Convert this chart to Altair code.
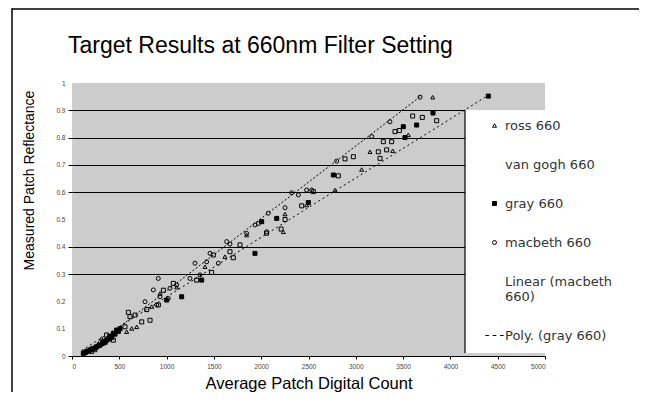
import altair as alt
import pandas as pd

SERIES = ["ross 660", "van gogh 660", "gray 660", "macbeth 660",
          "Linear (macbeth 660)", "Poly. (gray 660)"]

ross_x = [208, 243, 278, 313, 578, 631, 684, 842, 930, 1106, 1406, 1617, 1846,
          2234, 2252, 2480, 2780, 3062, 3150, 3390, 3555, 3813]
ross_y = [0.016, 0.022, 0.046, 0.064, 0.089, 0.101, 0.107, 0.181, 0.229, 0.252,
          0.327, 0.364, 0.443, 0.455, 0.520, 0.553, 0.608, 0.683, 0.748, 0.752,
          0.810, 0.948]

vangogh_x = [366, 437, 560, 596, 613, 666, 737, 790, 825, 913, 966, 1071, 1318,
             1476, 1494, 1670, 1705, 1776, 2057, 2210, 2252, 2428, 2551, 2815,
             2886, 2974, 3238, 3256, 3291, 3326, 3379, 3414, 3460, 3601, 3703, 3855]
vangogh_y = [0.077, 0.058, 0.107, 0.160, 0.144, 0.150, 0.125, 0.170, 0.131, 0.187,
             0.241, 0.266, 0.278, 0.306, 0.370, 0.382, 0.360, 0.407, 0.450, 0.465,
             0.500, 0.550, 0.602, 0.660, 0.722, 0.730, 0.748, 0.724, 0.785, 0.755,
             0.785, 0.822, 0.826, 0.879, 0.874, 0.862]

gray_x = [120, 140, 150, 170, 190, 205, 226, 250, 261, 285, 296, 320, 331, 350,
          366, 390, 402, 420, 437, 455, 472, 490, 508, 1001, 1159, 1371, 1934,
          2005, 2164, 2498, 2763, 3502, 3520, 3643, 3816, 4401]
gray_y = [0.010, 0.012, 0.016, 0.018, 0.022, 0.025, 0.028, 0.030, 0.034, 0.038,
          0.040, 0.045, 0.052, 0.050, 0.058, 0.062, 0.071, 0.068, 0.083, 0.080,
          0.095, 0.090, 0.100, 0.205, 0.217, 0.278, 0.376, 0.492, 0.504, 0.562,
          0.663, 0.840, 0.800, 0.846, 0.890, 0.952]

macbeth_x = [772, 860, 895, 912, 930, 1018, 1036, 1106, 1247, 1300, 1353, 1423,
             1459, 1547, 1635, 1670, 1846, 1935, 1970, 2058, 2075, 2252, 2322,
             2393, 2480, 2534, 2798, 3168, 3361, 3679]
macbeth_y = [0.199, 0.242, 0.187, 0.284, 0.217, 0.211, 0.248, 0.260, 0.284, 0.340,
             0.297, 0.345, 0.376, 0.340, 0.419, 0.410, 0.449, 0.480, 0.485, 0.455,
             0.523, 0.543, 0.598, 0.590, 0.608, 0.608, 0.714, 0.804, 0.858, 0.948]

linear_x = [100, 3700]
linear_y = [0.0, 0.955]
poly_x = [100, 2569, 4400]
poly_y = [0.02, 0.559, 0.955]

x_ticks = [0, 500, 1000, 1500, 2000, 2500, 3000, 3500, 4000, 4500, 5000]
y_ticks = [0, 0.1, 0.2, 0.3, 0.4, 0.5, 0.6, 0.7, 0.8, 0.9, 1]

FONT = "Liberation Sans"

pts = pd.concat([
    pd.DataFrame({"count": ross_x, "refl": ross_y, "series": SERIES[0]}),
    pd.DataFrame({"count": vangogh_x, "refl": vangogh_y, "series": SERIES[1]}),
    pd.DataFrame({"count": gray_x, "refl": gray_y, "series": SERIES[2]}),
    pd.DataFrame({"count": macbeth_x, "refl": macbeth_y, "series": SERIES[3]}),
], ignore_index=True)
lin_df = pd.DataFrame({"count": linear_x, "refl": linear_y})
poly_df = pd.DataFrame({"count": poly_x, "refl": poly_y})

xscale = alt.Scale(domain=[0, 5000], nice=False, zero=False)
yscale = alt.Scale(domain=[0, 1], nice=False)

hide_grid = "indexof([0, 1, 2, 5, 10], round(datum.value * 10)) >= 0"

x_axis = alt.Axis(values=x_ticks, format="d", grid=False, domainColor="black",
                  domainWidth=1, tickColor="black", tickSize=3, labelFontSize=6.5,
                  labelColor="#444", labelFont=FONT, labelPadding=4,
                  title="Average Patch Digital Count", titleFont=FONT,
                  titleFontSize=16.5, titleFontWeight="normal", titleColor="black",
                  titleY=32, titleBaseline="alphabetic")
y_axis = alt.Axis(values=y_ticks, format="~g", domain=False, grid=True,
                  labelOverlap=False, gridColor="black", gridWidth=1.2,
                  gridOpacity={"condition": {"test": hide_grid, "value": 0}, "value": 1},
                  tickColor="black", tickSize=4,
                  tickOpacity={"condition": {"test": hide_grid + " && datum.value > 0", "value": 0}, "value": 1},
                  labelFontSize=6.5, labelColor="#444", labelFont=FONT, labelPadding=3,
                  title="Measured Patch Reflectance", titleFont=FONT, titleFontSize=14,
                  titleFontWeight="normal", titleColor="black", titleX=-39, titleY=97,
                  titleBaseline="alphabetic")

X = alt.X("count:Q", scale=xscale, axis=x_axis)
Y = alt.Y("refl:Q", scale=yscale, axis=y_axis)

hide_sym = "datum.value === 'van gogh 660' || datum.value === 'Linear (macbeth 660)' ? 0 : 1"
legend = alt.Legend(title=None, orient="none", legendX=416, legendY=36, padding=0,
                    direction="vertical", rowPadding=25, labelFont="DejaVu Sans",
                    labelFontSize=13, labelColor="#333", labelOffset=4,
                    labelLimit=200, symbolStrokeWidth=1, symbolSize=16,
                    symbolOpacity={"expr": hide_sym},
                    labelExpr="datum.label == 'Linear (macbeth 660)' ? ['Linear (macbeth', '660)'] : datum.label")

shape_range = ["triangle-up", "square", "square", "circle", "M-4.6,0H4.6",
               "M-4.6,0H-2.8M-0.9,0H0.9M2.8,0H4.6"]
fill_range = ["transparent", "transparent", "black", "transparent", "transparent", "transparent"]
stroke_range = ["black"] * 6

points = alt.Chart(pts).mark_point(strokeWidth=1, opacity=1, size=16).encode(
    x=X, y=Y,
    shape=alt.Shape("series:N", scale=alt.Scale(domain=SERIES, range=shape_range), legend=legend),
    fill=alt.Fill("series:N", scale=alt.Scale(domain=SERIES, range=fill_range), legend=legend),
    stroke=alt.Stroke("series:N", scale=alt.Scale(domain=SERIES, range=stroke_range), legend=legend),
)

lin_line = alt.Chart(lin_df).mark_line(color="black", strokeWidth=1, strokeDash=[2, 2]).encode(x=X, y=Y)
poly_line = alt.Chart(poly_df).mark_line(color="black", strokeWidth=1, strokeDash=[2, 3]).encode(x=X, y=Y)

one = alt.Data(values=[{}])
legend_box = alt.Chart(one).mark_rect(fill="white").encode(
    x=alt.value(393), x2=alt.value(474), y=alt.value(27), y2=alt.value(270))
legend_edge = alt.Chart(one).mark_rule(color="black", strokeWidth=1.2).encode(
    x=alt.value(393), y=alt.value(27), y2=alt.value(270))
frame_top = alt.Chart(one).mark_rule(color="black", strokeWidth=1.5).encode(
    x=alt.value(-60), x2=alt.value(567), y=alt.value(-74))
frame_left = alt.Chart(one).mark_rule(color="black", strokeWidth=1.5).encode(
    x=alt.value(-60), y=alt.value(-74.75), y2=alt.value(311))

chart = alt.layer(points, lin_line, poly_line, legend_box, legend_edge,
                  frame_top, frame_left).properties(
    width=473, height=273,
    title=alt.TitleParams("Target Results at 660nm Filter Setting", anchor="start",
                          frame="group", dx=-4, offset=-68, fontSize=23, font=FONT,
                          fontWeight="normal", color="black", baseline="alphabetic"),
    autosize=alt.AutoSizeParams(type="none"),
    padding={"left": 64, "top": 75, "right": 94, "bottom": 36},
).configure_view(fill="#cccccc", stroke=None)

chart.save("out.html", embed_options={"renderer": "svg", "actions": False})
